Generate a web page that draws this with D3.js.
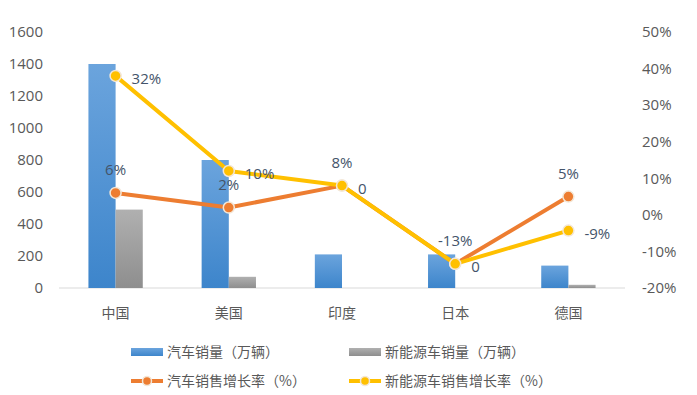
<!DOCTYPE html>
<html>
<head>
<meta charset="utf-8">
<script src="https://cdn.jsdelivr.net/npm/d3@7"></script>
<style>
  body { margin: 0; background: #fff; }
  text { font-family: "Open Sans", "Noto Sans CJK SC", sans-serif; }
  text.cjk { font-family: "Noto Sans CJK SC", sans-serif; }
</style>
</head>
<body>
<div id="chart"></div>
<script>
// data
const categories = ["中国", "美国", "印度", "日本", "德国"];
const carSales = [1400, 800, 210, 210, 140];      // 汽车销量（万辆）
const nevSales = [490, 70, 0, 0, 20];             // 新能源车销量（万辆）
const carGrowth = [6, 2, 8, -13.4, 5];            // 汽车销售增长率（%）
const nevGrowth = [38, 12, 8, -13.4, -4.3];       // 新能源车销售增长率（%）
const carGrowthLabels = ["6%", "2%", "8%", "-13%", "5%"];
const nevGrowthLabels = ["32%", "10%", "0", "0", "-9%"];
const leftTicks = [0, 200, 400, 600, 800, 1000, 1200, 1400, 1600];
const rightTicks = [-20, -10, 0, 10, 20, 30, 40, 50];

const W = 697, H = 395;
const margin = { top: 32, right: 72, bottom: 107, left: 59 };
const width = W - margin.left - margin.right;
const height = H - margin.top - margin.bottom;

const svg = d3.select("#chart").append("svg")
  .attr("width", W).attr("height", H);

const defs = svg.append("defs");
function grad(id, c1, c2) {
  const g = defs.append("linearGradient").attr("id", id)
    .attr("x1", 0).attr("y1", 0).attr("x2", 0).attr("y2", 1);
  g.append("stop").attr("offset", "0%").attr("stop-color", c1);
  g.append("stop").attr("offset", "100%").attr("stop-color", c2);
}
grad("gBlue", "#6ba4dd", "#3d85cb");
grad("gGray", "#b0b0b0", "#8e8e8e");

const g = svg.append("g")
  .attr("transform", "translate(" + margin.left + "," + margin.top + ")");

const x = d3.scaleBand().domain(categories).range([0, width]);
const yL = d3.scaleLinear().domain([0, 1600]).range([height, 0]);
const yR = d3.scaleLinear().domain([-20, 50]).range([height, 0]);
const barW = x.bandwidth() * 0.24;

// left axis
g.append("g").call(d3.axisLeft(yL).tickValues(leftTicks).tickSize(0).tickPadding(16)
    .tickFormat(d3.format("d")))
  .call(a => a.select(".domain").remove())
  .selectAll("text").attr("fill", "#595959").style("font-size", "15px");

// right axis
g.append("g").attr("transform", "translate(" + width + ",0)")
  .call(d3.axisRight(yR).tickValues(rightTicks).tickSize(0).tickPadding(17)
    .tickFormat(d => d + "%"))
  .call(a => a.select(".domain").remove())
  .selectAll("text").attr("fill", "#595959").style("font-size", "15px");

// baseline
g.append("line").attr("x1", 0).attr("x2", width)
  .attr("y1", yL(0)).attr("y2", yL(0))
  .attr("stroke", "#d9d9d9").attr("stroke-width", 1);

// category labels
g.selectAll(".cat").data(categories).enter().append("text")
  .attr("class", "cjk")
  .attr("x", d => x(d) + x.bandwidth() / 2)
  .attr("y", height + 30)
  .attr("text-anchor", "middle")
  .attr("fill", "#595959").style("font-size", "14px")
  .text(d => d);

// bars
g.selectAll(".car").data(carSales).enter().append("rect")
  .attr("x", (d, i) => x(categories[i]) + x.bandwidth() / 2 - barW)
  .attr("y", d => yL(d))
  .attr("width", barW)
  .attr("height", d => yL(0) - yL(d))
  .attr("fill", "url(#gBlue)");
g.selectAll(".nev").data(nevSales).enter().append("rect")
  .attr("x", (d, i) => x(categories[i]) + x.bandwidth() / 2)
  .attr("y", d => yL(d))
  .attr("width", barW)
  .attr("height", d => yL(0) - yL(d))
  .attr("fill", "url(#gGray)");

const cx = i => x(categories[i]) + x.bandwidth() / 2;
const line = d3.line().x((d, i) => cx(i)).y(d => yR(d));

function series(vals, color) {
  g.append("path").datum(vals).attr("d", line)
    .attr("fill", "none").attr("stroke", color)
    .attr("stroke-width", 4).attr("stroke-linejoin", "round");
  g.selectAll(null).data(vals).enter().append("circle")
    .attr("cx", (d, i) => cx(i)).attr("cy", d => yR(d))
    .attr("r", 5.5).attr("fill", color)
    .attr("stroke", "#f3e6d6").attr("stroke-width", 1.5);
}
series(carGrowth, "#ed7d31");
series(nevGrowth, "#ffc000");

// data labels
g.selectAll(null).data(carGrowth).enter().append("text")
  .attr("x", (d, i) => cx(i)).attr("y", d => yR(d) - 18)
  .attr("text-anchor", "middle")
  .attr("fill", "#44546a").style("font-size", "15px")
  .text((d, i) => carGrowthLabels[i]);
g.selectAll(null).data(nevGrowth).enter().append("text")
  .attr("x", (d, i) => cx(i) + 16).attr("y", d => yR(d) + 8)
  .attr("fill", "#44546a").style("font-size", "15px")
  .text((d, i) => nevGrowthLabels[i]);

// legend
const legendItems = [
  { name: "汽车销量（万辆）", type: "bar", fill: "url(#gBlue)", x: 131, y: 352 },
  { name: "新能源车销量（万辆）", type: "bar", fill: "url(#gGray)", x: 349, y: 352 },
  { name: "汽车销售增长率（%）", type: "line", fill: "#ed7d31", x: 131, y: 381 },
  { name: "新能源车销售增长率（%）", type: "line", fill: "#ffc000", x: 349, y: 381 }
];
const lg = svg.selectAll(".legend").data(legendItems).enter().append("g")
  .attr("transform", d => "translate(" + d.x + "," + d.y + ")");
lg.filter(d => d.type === "bar").append("rect")
  .attr("x", 0).attr("y", -4).attr("width", 32).attr("height", 8)
  .attr("fill", d => d.fill);
lg.filter(d => d.type === "line").append("line")
  .attr("x1", 0).attr("x2", 32).attr("y1", 0).attr("y2", 0)
  .attr("stroke", d => d.fill).attr("stroke-width", 4);
lg.filter(d => d.type === "line").append("circle")
  .attr("cx", 16).attr("cy", 0).attr("r", 4.5)
  .attr("fill", d => d.fill).attr("stroke", "#f3e6d6").attr("stroke-width", 1.5);
lg.append("text").attr("class", "cjk").attr("x", 36).attr("y", 5)
  .attr("fill", "#595959").style("font-size", "14px")
  .text(d => d.name);
</script>
</body>
</html>
